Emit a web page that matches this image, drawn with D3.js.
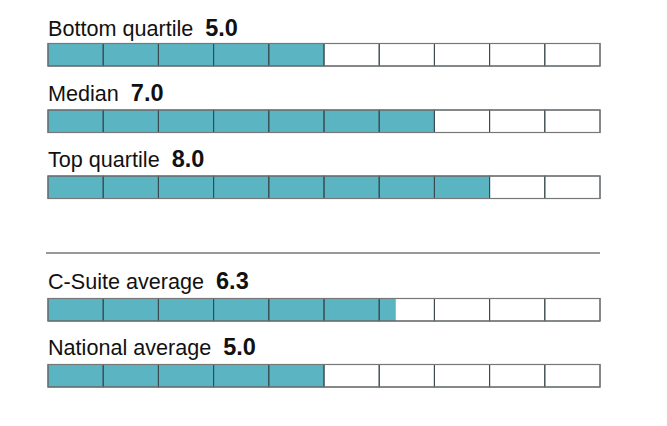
<!DOCTYPE html>
<html>
<head>
<meta charset="utf-8">
<script src="https://cdn.jsdelivr.net/npm/d3@7"></script>
<style>
  body { margin: 0; background: #fff; }
  text { font-family: "Liberation Sans", Arial, sans-serif; }
</style>
</head>
<body>
<div id="chart"></div>
<script>
// values (score out of 10)
var labels = ["Bottom quartile", "Median", "Top quartile", "C-Suite average", "National average"];
var values = [5.0, 7.0, 8.0, 6.3, 5.0];
var cells = d3.range(10);

var w = 667, h = 426;
var rowTop = [43.5, 110, 176, 298.5, 364.5];
var barH = 22.5;

var x = d3.scaleLinear().domain([0, 10]).range([48, 600]);

var svg = d3.select("#chart")
  .append("svg")
  .attr("width", w)
  .attr("height", h);

var rows = svg.selectAll("g.row")
  .data(labels)
  .enter()
  .append("g")
  .attr("class", "row")
  .attr("transform", function (d, i) { return "translate(0," + rowTop[i] + ")"; });

// label + bold value
var lab = rows.append("text")
  .attr("x", x(0))
  .attr("y", function (d, i) { return i == 0 ? -7.5 : -9.5; })
  .style("font-size", "21.6px")
  .style("fill", "#111");
lab.append("tspan").text(function (d) { return d; });
lab.append("tspan")
  .attr("dx", 12)
  .style("font-weight", "bold")
  .style("font-size", "23.5px")
  .text(function (d, i) { return values[i].toFixed(1); });

// white background
rows.append("rect")
  .attr("x", x(0))
  .attr("y", 0)
  .attr("width", x(10) - x(0))
  .attr("height", barH)
  .style("fill", "#fff");

// filled part
rows.append("rect")
  .attr("x", x(0))
  .attr("y", 0)
  .attr("width", function (d, i) { return x(values[i]) - x(0); })
  .attr("height", barH)
  .style("fill", "#5bb4c2");

// cell outlines
rows.each(function (d, i) {
  d3.select(this).selectAll("rect.cell")
    .data(cells)
    .enter()
    .append("rect")
    .attr("class", "cell")
    .attr("x", function (c) { return x(c); })
    .attr("y", 0)
    .attr("width", x(1) - x(0))
    .attr("height", barH)
    .style("fill", "none")
    .style("stroke", "#3a4a50")
    .style("stroke-width", 1);
});

// outer frame in lighter grey
rows.append("rect")
  .attr("x", x(0))
  .attr("y", 0)
  .attr("width", x(10) - x(0))
  .attr("height", barH)
  .style("fill", "none")
  .style("stroke", "#777")
  .style("stroke-width", 1.2);

// separator
svg.append("line")
  .attr("x1", 46)
  .attr("x2", x(10))
  .attr("y1", 253)
  .attr("y2", 253)
  .style("stroke", "#777")
  .style("stroke-width", 1.5);
</script>
</body>
</html>
